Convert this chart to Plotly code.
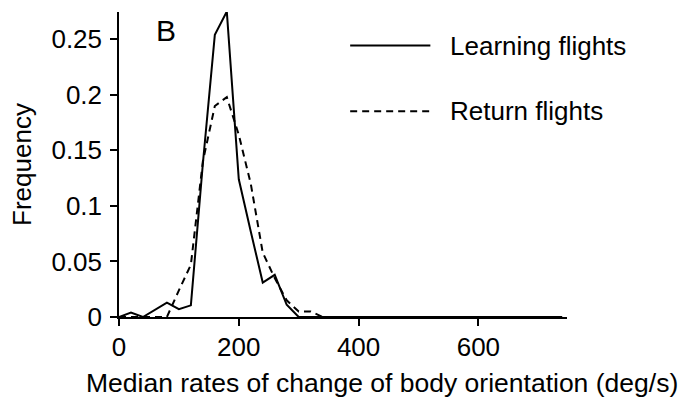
import plotly.graph_objects as go

# Bin centres (deg/s) and relative frequencies of the two flight types
rate_bins = list(range(0, 760, 20))

learning_freq = [0.0, 0.004, 0.0, 0.0065, 0.013, 0.007, 0.0105, 0.138, 0.254, 0.275,
                 0.124, 0.077, 0.031, 0.038, 0.011, 0.0] + [0.0] * 22

return_freq = [0.0, 0.0, 0.0, 0.0, 0.0, 0.024, 0.047, 0.14, 0.19, 0.198,
               0.164, 0.12, 0.058, 0.035, 0.015, 0.005, 0.005, 0.0] + [0.0] * 20

x_ticks = [0, 200, 400, 600]
y_ticks = [0, 0.05, 0.1, 0.15, 0.2, 0.25]
y_tick_text = ["0", "0.05", "0.1", "0.15", "0.2", "0.25"]

FONT = "Liberation Sans, Arial, sans-serif"
FS = 26

fig = go.Figure()
fig.add_trace(go.Scatter(x=rate_bins, y=learning_freq, mode="lines",
                         line=dict(color="black", width=2), name="Learning flights",
                         showlegend=False))
fig.add_trace(go.Scatter(x=rate_bins, y=return_freq, mode="lines",
                         line=dict(color="black", width=2, dash="7px,5px"),
                         name="Return flights", showlegend=False))

axis_common = dict(showline=True, linecolor="black", linewidth=1.5,
                   ticks="outside", ticklen=7, tickwidth=1.5, tickcolor="black",
                   showgrid=False, zeroline=False,
                   tickfont=dict(family=FONT, size=FS, color="black"))

fig.update_xaxes(range=[0, 748], tickvals=x_ticks, ticklabelstandoff=-1,
                 **axis_common)
fig.update_yaxes(range=[0, 0.2746], tickvals=y_ticks, ticktext=y_tick_text,
                 ticklabelstandoff=3,
                 title=dict(text="Frequency", font=dict(family=FONT, size=FS, color="black"),
                            standoff=12),
                 **axis_common)

# x-axis title, set a little to the right of the plot centre
fig.add_annotation(xref="paper", yref="paper", x=0.588, y=-0.216,
                   text="Median rates of change of body orientation (deg/s)",
                   showarrow=False, xanchor="center", yanchor="middle",
                   font=dict(family=FONT, size=26.5, color="black"))

# Legend drawn as line samples with labels
legend_items = [("Learning flights", "solid", 0.89), ("Return flights", "7px,5px", 0.675)]
for label, dash, yy in legend_items:
    fig.add_shape(type="line", xref="paper", yref="paper",
                  x0=0.516, x1=0.695, y0=yy, y1=yy,
                  line=dict(color="black", width=2, dash=dash))
    fig.add_annotation(xref="paper", yref="paper", x=0.735, y=yy, text=label,
                       showarrow=False, xanchor="left", yanchor="middle",
                       font=dict(family=FONT, size=FS, color="black"))

fig.add_annotation(xref="paper", yref="paper", x=0.105, y=0.94, text="B",
                   showarrow=False, xanchor="center", yanchor="middle",
                   font=dict(family=FONT, size=30, color="black"))

fig.update_layout(width=682, height=402, margin=dict(l=119, r=115, t=12, b=85),
                  plot_bgcolor="white", paper_bgcolor="white")

fig.write_html("out.html")
